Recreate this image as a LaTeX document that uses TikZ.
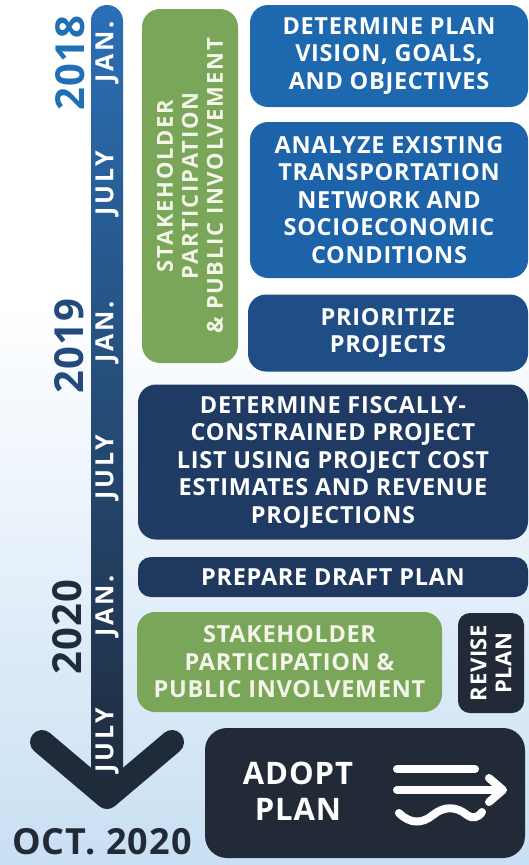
\documentclass[tikz,border=0pt]{standalone}
\usepackage{fontspec}
\setmainfont{Open Sans}[LetterSpace=3]
\newfontfamily\midfont{Open Sans}[LetterSpace=8]
\newfontfamily\widefont{Open Sans}[LetterSpace=12]
\definecolor{bgblue}{HTML}{C9DFF3}
\definecolor{blueA}{HTML}{1D68AF}
\definecolor{blueB}{HTML}{1C63AA}
\definecolor{navyA}{HTML}{1F4D85}
\definecolor{navyB}{HTML}{1F3B63}
\definecolor{navyC}{HTML}{1E395D}
\definecolor{greenA}{HTML}{7AA65A}
\definecolor{greentext}{HTML}{F3F5E8}
\definecolor{darkA}{HTML}{212A36}
\definecolor{barTop}{HTML}{2B6FB5}
\definecolor{barMid}{HTML}{21426F}
\definecolor{barBot}{HTML}{1F2A3B}
\definecolor{yrA}{HTML}{2070B5}
\definecolor{yrB}{HTML}{234A7D}
\definecolor{yrC}{HTML}{1E2C3C}
\tikzset{
  box/.style={rounded corners=18pt, inner sep=0pt, align=center, text=white,
    font=\bfseries\fontsize{23.5}{27.5}\selectfont},
  month/.style={rotate=90, text=white, inner sep=0pt,
    font=\widefont\bfseries\fontsize{25}{25}\selectfont},
  year/.style={rotate=90, inner sep=0pt, font=\bfseries\fontsize{40}{40}\selectfont},
  iconline/.style={white, line width=8pt, line cap=round, line join=round}
}
\begin{document}
\begin{tikzpicture}[x=1pt,y=-1pt]
\useasboundingbox (0,0) rectangle (529,865);
% background
\fill[white] (0,0) rectangle (529,865);
\shade[top color=white, bottom color=bgblue] (0,300) rectangle (529,865);
% timeline bar
\shade[top color=barTop, middle color=barMid, bottom color=barBot, rounded corners=16pt]
  (91,5) rectangle (123,800);
\draw[line width=24pt, line cap=round, line join=round, color=barBot]
  (42,742) -- (107,797) -- (172,742);
% month labels
\node[month] (jan18) at (107,52) {JAN.};
\node[month] (jul18) at (107,183) {JULY};
\node[month] (jan19) at (107,332) {JAN.};
\node[month] (jul19) at (107,467) {JULY};
\node[month] (jan20) at (107,606) {JAN.};
\node[month] (jul20) at (107,740) {JULY};
% years
\node[year, text=yrA] (y18) at (70,63) {2018};
\node[year, text=yrB] (y19) at (69,346) {2019};
\node[year, text=yrC] (y20) at (67,627) {2020};
\node[inner sep=0pt, text=darkA, font=\bfseries\fontsize{36}{36}\selectfont] (oct) at (102,842) {OCT. 2020};
% green stakeholder box (rotated)
\node[box, fill=greenA, text=greentext, rotate=90, minimum width=354pt, minimum height=96pt,
  font=\midfont\bfseries\fontsize{22}{25}\selectfont] (stake1) at (190,186)
  {STAKEHOLDER\\PARTICIPATION\\\& PUBLIC INVOLVEMENT};
% blue boxes
\node[box, fill=blueA, minimum width=278pt, minimum height=102pt] (b1) at (389,56)
  {DETERMINE PLAN\\VISION, GOALS,\\AND OBJECTIVES};
\node[box, fill=blueB, minimum width=278pt, minimum height=156pt] (b2) at (389,200)
  {ANALYZE EXISTING\\TRANSPORTATION\\NETWORK AND\\SOCIOECONOMIC\\CONDITIONS};
\node[box, fill=navyA, minimum width=280pt, minimum height=77pt] (b3) at (388,333)
  {PRIORITIZE\\PROJECTS};
\node[box, fill=navyB, minimum width=390pt, minimum height=155pt] (b4) at (333,462)
  {DETERMINE FISCALLY-\\CONSTRAINED PROJECT\\LIST USING PROJECT COST\\ESTIMATES AND REVENUE\\PROJECTIONS};
\node[box, fill=navyC, rounded corners=13pt, minimum width=390pt, minimum height=40pt] (b5) at (333,577)
  {PREPARE DRAFT PLAN};
\node[box, fill=greenA, text=greentext, minimum width=305pt, minimum height=100pt] (stake2) at (289.5,662)
  {STAKEHOLDER\\PARTICIPATION \&\\PUBLIC INVOLVEMENT};
\node[box, fill=darkA, rotate=90, rounded corners=12pt, minimum width=100pt, minimum height=66pt,
  font=\bfseries\fontsize{22}{25}\selectfont] (rev) at (491,663)
  {REVISE\\PLAN};
% adopt plan
\node[box, fill=darkA, rounded corners=22pt, minimum width=320pt, minimum height=130pt] (adopt) at (365,793) {};
\node[inner sep=0pt, align=center, text=white, font=\bfseries\fontsize{31}{36}\selectfont] (adopttxt) at (298,791)
  {ADOPT\\PLAN};
\draw[iconline] (397,769) -- (475,769);
\draw[iconline] (397,790) -- (502,790);
\draw[iconline] (489,778) -- (503,790) -- (489,802);
\draw[iconline] (399,813) .. controls (410,824) and (422,824) .. (433,815)
  .. controls (444,806) and (456,806) .. (467,815)
  .. controls (472,819) and (478,818) .. (482,812);
\end{tikzpicture}
\end{document}
